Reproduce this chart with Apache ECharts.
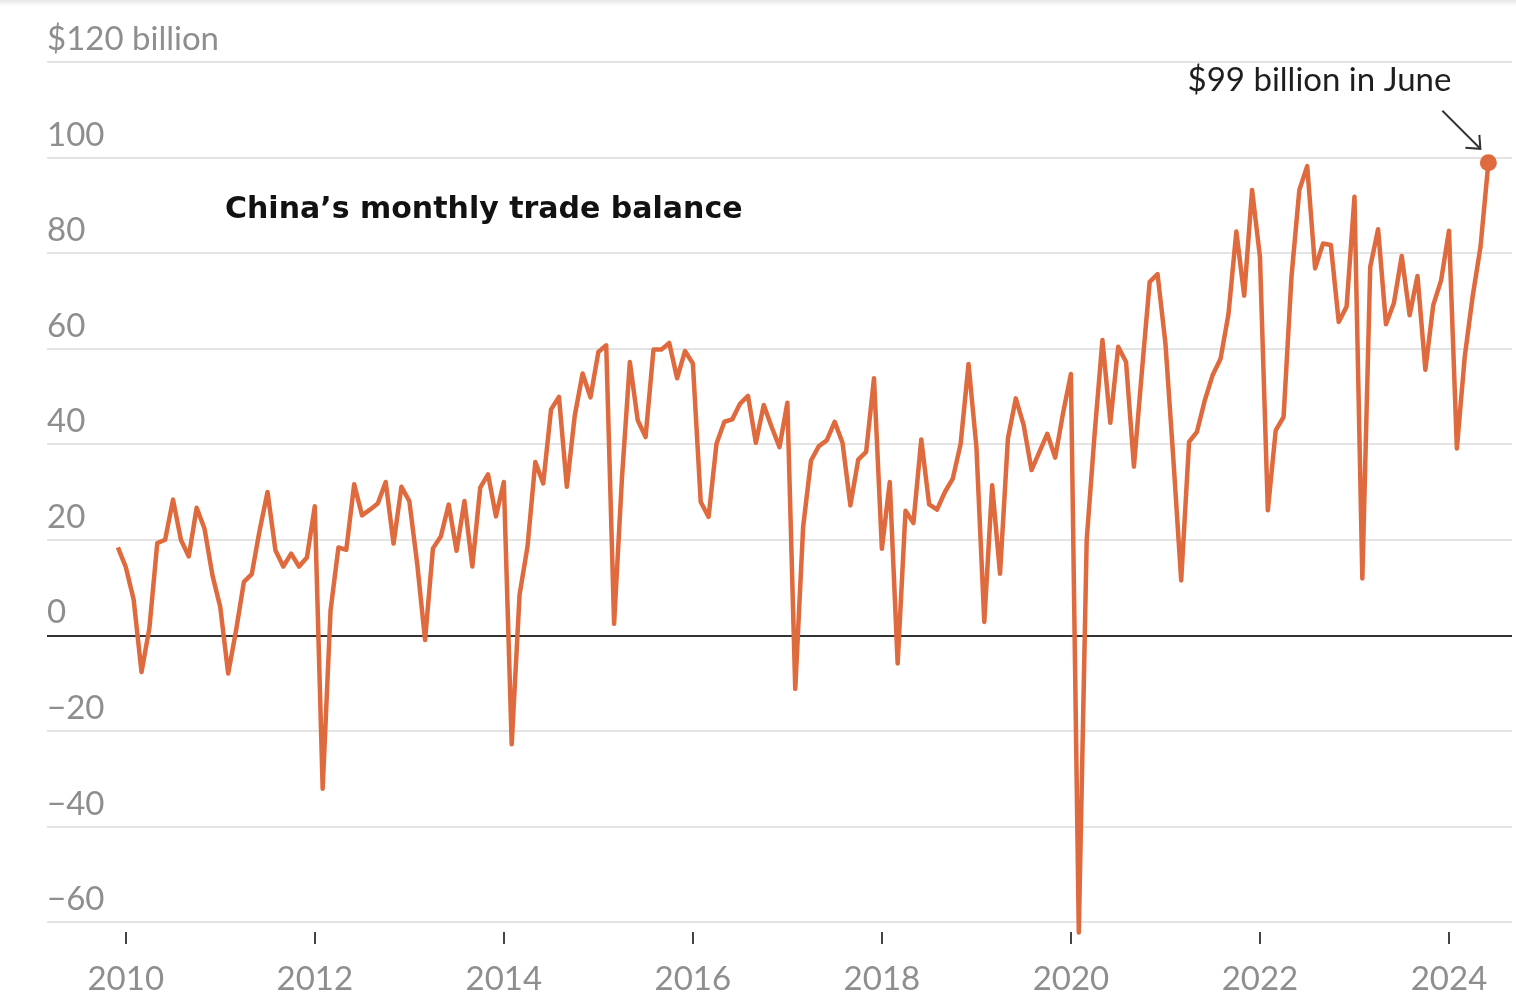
<!DOCTYPE html>
<html>
<head>
<meta charset="utf-8">
<script src="https://cdn.jsdelivr.net/npm/echarts@6/dist/echarts.min.js"></script>
<style>
html,body{margin:0;padding:0;background:#fff;}
#topshade{position:absolute;left:0;top:0;width:1516px;height:6px;background:linear-gradient(#e6e6e6,#ffffff);z-index:2;}
#chart{width:1516px;height:1008px;}
</style>
</head>
<body>
<div id="topshade"></div>
<div id="chart"></div>
<script>
// ---- Data (China's monthly trade balance, $ billion), starting Dec 2009 ----
const startYear = 2009;
const startMonth = 12;
const v2009 = [18.4];
const v2010 = [14.3, 7.5, -7.7, 1.5, 19.3, 20.0, 28.4, 20.0, 16.5, 26.7, 22.3, 12.6];
const v2011 = [5.9, -8.0, 1.0, 11.2, 12.8, 22.0, 30.0, 17.8, 14.4, 17.1, 14.4, 16.3];
const v2012 = [27.0, -32.1, 5.2, 18.4, 17.9, 31.6, 25.1, 26.3, 27.6, 32.1, 19.2, 31.1];
const v2013 = [28.1, 15.0, -1.0, 18.2, 20.7, 27.4, 17.7, 28.1, 14.4, 30.9, 33.7, 24.9];
const v2014 = [32.1, -22.8, 8.5, 18.5, 36.3, 31.8, 47.3, 49.9, 31.1, 45.9, 54.8, 49.8];
const v2015 = [59.3, 60.7, 2.4, 33.0, 57.2, 45.0, 41.5, 59.8, 59.8, 61.2, 53.8, 59.5];
const v2016 = [56.9, 27.9, 24.8, 40.1, 44.7, 45.2, 48.5, 50.1, 40.3, 48.2, 43.6, 39.4];
const v2017 = [48.7, -11.2, 22.7, 36.6, 39.6, 40.8, 44.7, 40.3, 27.2, 36.8, 38.4, 53.8];
const v2018 = [18.1, 32.1, -5.9, 26.1, 23.5, 41.0, 27.4, 26.3, 30.0, 32.8, 40.1, 56.8];
const v2019 = [39.4, 2.8, 31.4, 12.9, 41.2, 49.6, 44.0, 34.6, 38.4, 42.2, 37.2, 46.5];
const v2020 = [54.7, -62.2, 19.9, 42.0, 61.8, 44.5, 60.4, 57.2, 35.3, 55.0, 74.0, 75.6];
const v2021 = [61.1, 37.0, 11.5, 40.5, 42.6, 49.2, 54.5, 57.9, 67.2, 84.5, 71.1, 93.2];
const v2022 = [79.2, 26.2, 42.9, 45.7, 75.0, 93.2, 98.2, 76.8, 82.0, 81.7, 65.6, 68.8];
const v2023 = [91.8, 11.9, 77.1, 85.0, 65.1, 69.5, 79.4, 67.0, 75.2, 55.6, 69.1, 74.3];
const v2024 = [84.7, 39.1, 58.3, 70.9, 81.3, 98.9];

const yTicks = [-60, -40, -20, 0, 20, 40, 60, 80, 100, 120];
const yTickLabels = ['\u221260', '\u221240', '\u221220', '0', '20', '40', '60', '80', '100', '$120 billion'];
const xTicks = [2010, 2012, 2014, 2016, 2018, 2020, 2022, 2024];
const xTickLabels = ['2010', '2012', '2014', '2016', '2018', '2020', '2022', '2024'];
const titleText = 'China\u2019s monthly trade balance';
const annotationText = '$99 billion in June';

// ---- Build series ----
const values = [].concat(v2009, v2010, v2011, v2012, v2013, v2014, v2015, v2016,
  v2017, v2018, v2019, v2020, v2021, v2022, v2023, v2024);
const months = values.map((_, i) => {
  const m0 = (startMonth - 1) + i;
  const y = startYear + Math.floor(m0 / 12);
  const m = (m0 % 12) + 1;
  return y + '-' + String(m).padStart(2, '0');
});
const points = months.map((s, i) => {
  const [y, m] = s.split('-').map(Number);
  return [y + (m - 1) / 12, values[i]];
});
const lastPoint = points[points.length - 1];

const ORANGE = '#df6a3d';
const GRAY = '#8e8e8e';
const gridColors = yTicks.map(v => v === 0 ? '#333333' : '#e4e4e4');

const chart = echarts.init(document.getElementById('chart'), null, {renderer: 'canvas'});
chart.setOption({
  animation: false,
  backgroundColor: '#ffffff',
  title: {
    text: titleText,
    left: 225, top: 193, padding: 0,
    textStyle: {fontFamily: 'DejaVu Sans', fontWeight: 'bold', fontSize: 30, color: '#121212', lineHeight: 34}
  },
  grid: {left: 47, right: 4, top: 62, bottom: 86, containLabel: false},
  xAxis: {
    type: 'value',
    min: 2009 + 2 / 12,
    max: 2024 + 8 / 12,
    offset: 10,
    axisLine: {show: false, onZero: false},
    splitLine: {show: false},
    axisTick: {show: true, customValues: xTicks, length: 12, lineStyle: {color: '#444', width: 2}},
    axisLabel: {
      customValues: xTicks,
      margin: 31,
      color: GRAY,
      fontFamily: 'Lato',
      fontSize: 33,
      lineHeight: 33,
      formatter: v => xTickLabels[xTicks.indexOf(Math.round(v))] || ''
    }
  },
  yAxis: {
    type: 'value',
    min: -60, max: 120, interval: 20,
    axisLine: {show: false},
    axisTick: {show: false},
    splitLine: {show: true, lineStyle: {color: gridColors, width: 2}},
    axisLabel: {
      inside: true,
      margin: 0,
      align: 'left',
      verticalAlign: 'bottom',
      padding: [0, 0, 6, 0],
      color: GRAY,
      fontFamily: 'Lato',
      fontSize: 33,
      lineHeight: 33,
      showMaxLabel: true,
      showMinLabel: true,
      formatter: v => yTickLabels[yTicks.indexOf(v)]
    }
  },
  series: [
    {
      type: 'line',
      data: points,
      showSymbol: false,
      symbol: 'none',
      clip: false,
      lineStyle: {color: ORANGE, width: 4.5, join: 'round'},
      z: 3
    },
    {
      type: 'scatter',
      data: [lastPoint],
      symbol: 'circle',
      symbolSize: 17,
      clip: false,
      itemStyle: {color: ORANGE, opacity: 1},
      z: 4
    }
  ]
});

// ---- Annotation placed relative to the last point ----
const p = chart.convertToPixel({gridIndex: 0}, lastPoint);
const tip = [p[0] - 8, p[1] - 14];
chart.setOption({
  graphic: [
    {
      type: 'text',
      x: p[0] - 37, y: p[1] - 82,
      style: {text: annotationText, fill: '#1e1e1e', font: '33px Lato', align: 'right', verticalAlign: 'middle'}
    },
    {
      type: 'polyline',
      shape: {points: [[p[0] - 46, p[1] - 52], tip]},
      style: {stroke: '#333', lineWidth: 2, fill: null}
    },
    {
      type: 'polyline',
      shape: {points: [[tip[0] - 15, tip[1] - 1], tip, [tip[0] - 1, tip[1] - 14]]},
      style: {stroke: '#333', lineWidth: 2, fill: null}
    }
  ]
});
</script>
</body>
</html>
